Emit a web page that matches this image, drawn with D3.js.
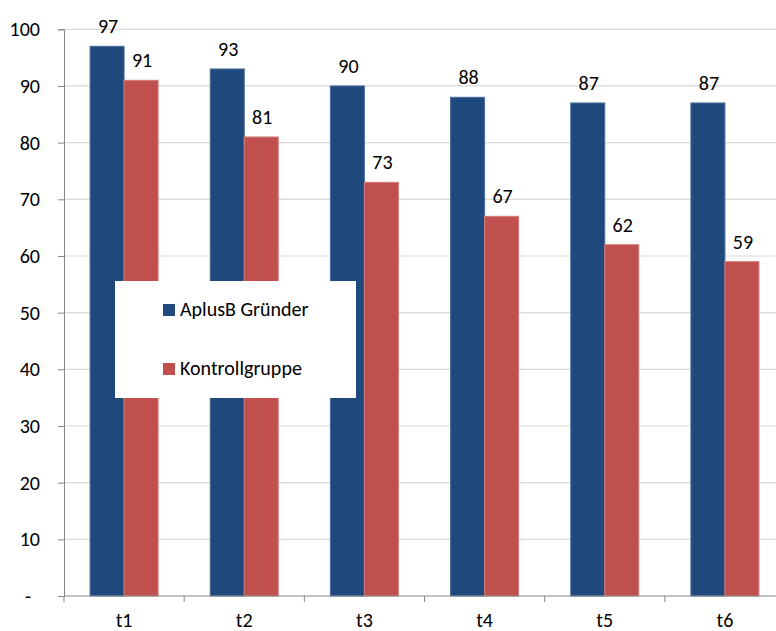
<!DOCTYPE html>
<html>
<head>
<meta charset="utf-8">
<script src="https://cdn.jsdelivr.net/npm/d3@7"></script>
<style>
  html, body { margin: 0; padding: 0; background: #fff; }
  svg { display: block; font-family: Carlito, Calibri, "Open Sans", sans-serif; }
</style>
</head>
<body>
<svg id="chart" width="776" height="631"></svg>
<script>
// Survey waves and share (%) per group
const categories = ["t1", "t2", "t3", "t4", "t5", "t6"];
const seriesNames = ["AplusB Gründer", "Kontrollgruppe"];
const aplusbValues = [97, 93, 90, 88, 87, 87];
const kontrollValues = [91, 81, 73, 67, 62, 59];
const yTicks = [0, 10, 20, 30, 40, 50, 60, 70, 80, 90, 100];

const colors = ["#1F497D", "#C0504D"];
const strokes = ["#4A6C9B", "#D27C7A"];
const fontSize = 20;

const svg = d3.select("#chart");
const plot = { left: 64, right: 785, top: 29.3, bottom: 596 };

const x = d3.scaleBand()
  .domain(categories)
  .range([plot.left, plot.right])
  .paddingInner(0.434)
  .paddingOuter(0.217);

const xs = d3.scaleBand()
  .domain(seriesNames)
  .range([0, x.bandwidth()]);

const y = d3.scaleLinear()
  .domain([0, 100])
  .range([plot.bottom, plot.top]);

// horizontal gridlines
svg.append("g")
  .selectAll("line")
  .data(yTicks.slice(1))
  .join("line")
  .attr("x1", plot.left)
  .attr("x2", plot.right)
  .attr("y1", d => y(d))
  .attr("y2", d => y(d))
  .attr("stroke", "#D9D9D9")
  .attr("stroke-width", 1.2);

// y axis
const yAxis = svg.append("g")
  .attr("transform", `translate(${plot.left},0)`)
  .call(d3.axisLeft(y).tickValues(yTicks).tickSize(6).tickPadding(18)
    .tickFormat(d => d === 0 ? "-" : d));
yAxis.select(".domain").attr("stroke", "#868686");
yAxis.selectAll(".tick line").attr("stroke", "#868686");
yAxis.selectAll(".tick text")
  .attr("font-size", fontSize)
  .attr("fill", "#000")
  .attr("font-family", "Carlito, Calibri, 'Open Sans', sans-serif")
  .filter(d => d === 0).attr("dx", -9);

// bars
const data = categories.map((c, i) => ({
  cat: c,
  vals: [aplusbValues[i], kontrollValues[i]]
}));

const groups = svg.append("g")
  .selectAll("g")
  .data(data)
  .join("g")
  .attr("transform", d => `translate(${x(d.cat)},0)`);

groups.selectAll("rect")
  .data(d => d.vals.map((v, k) => ({ name: seriesNames[k], v, k })))
  .join("rect")
  .attr("x", d => xs(d.name))
  .attr("width", xs.bandwidth())
  .attr("y", d => y(d.v))
  .attr("height", d => y(0) - y(d.v))
  .attr("fill", d => colors[d.k])
  .attr("stroke", d => strokes[d.k])
  .attr("stroke-width", 1);

// value labels
groups.selectAll("text")
  .data(d => d.vals.map((v, k) => ({ name: seriesNames[k], v, k })))
  .join("text")
  .attr("x", d => xs(d.name) + xs.bandwidth() / 2 + 1)
  .attr("y", d => y(d.v) - 13)
  .attr("text-anchor", "middle")
  .attr("font-size", fontSize)
  .attr("fill", "#000")
  .text(d => d.v);

// x axis line and boundary ticks
const xAxisG = svg.append("g");
xAxisG.append("line")
  .attr("x1", plot.left).attr("x2", plot.right)
  .attr("y1", plot.bottom).attr("y2", plot.bottom)
  .attr("stroke", "#868686");
const bounds = d3.range(categories.length + 1).map(i => plot.left + i * x.step());
xAxisG.selectAll(".bt")
  .data(bounds)
  .join("line")
  .attr("class", "bt")
  .attr("x1", d => d).attr("x2", d => d)
  .attr("y1", plot.bottom).attr("y2", plot.bottom + 6)
  .attr("stroke", "#868686");
xAxisG.selectAll(".xl")
  .data(categories)
  .join("text")
  .attr("class", "xl")
  .attr("x", d => x(d) + x.bandwidth() / 2)
  .attr("y", 627)
  .attr("text-anchor", "middle")
  .attr("font-size", fontSize)
  .attr("fill", "#000")
  .text(d => d);

// legend
const legend = svg.append("g");
legend.append("rect")
  .attr("x", 115).attr("y", 281)
  .attr("width", 241).attr("height", 117)
  .attr("fill", "#fff");
const items = legend.selectAll(".li")
  .data(seriesNames)
  .join("g")
  .attr("class", "li")
  .attr("transform", (d, i) => `translate(163,${304 + i * 59})`);
items.append("rect")
  .attr("width", 12).attr("height", 12)
  .attr("fill", (d, i) => colors[i]);
items.append("text")
  .attr("x", 17).attr("y", 12)
  .attr("font-size", fontSize)
  .attr("fill", "#000")
  .text(d => d);
</script>
</body>
</html>
